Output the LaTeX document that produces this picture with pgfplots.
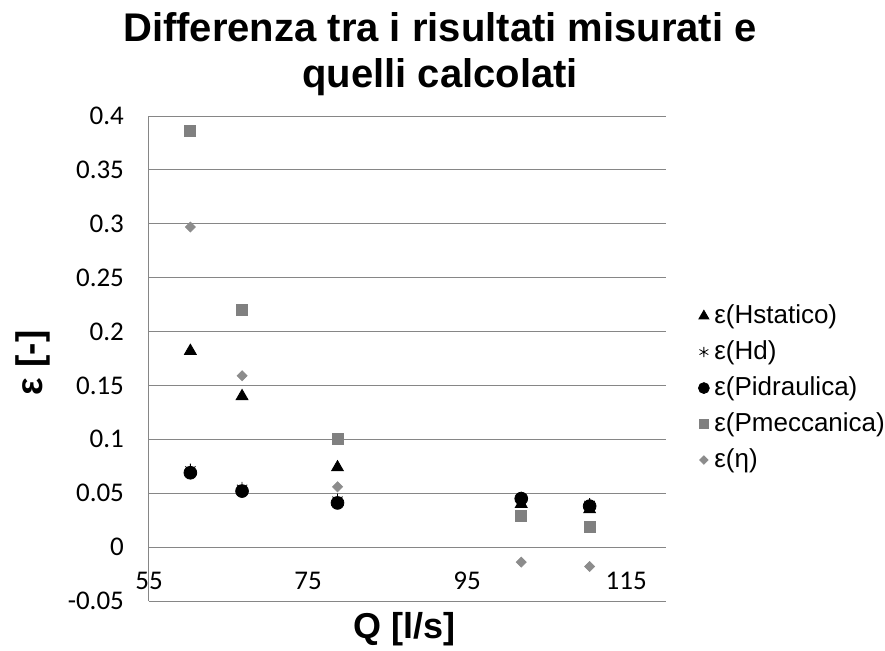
\documentclass[border=0pt]{standalone}
\usepackage{fontspec}
\setmainfont{Liberation Sans}
\newfontfamily\tickfont{Carlito}
\usepackage{pgfplots}
\pgfplotsset{compat=1.18}

\definecolor{gridgray}{HTML}{868686}
\definecolor{sqgray}{HTML}{808080}
\definecolor{digray}{HTML}{8C8C8C}

% Flow rates Q [l/s] and relative deviations for each quantity
\pgfplotstableread{
Q      Hst     Hd      Pid     Pmec    eta
60.2   0.182   0.072   0.069   0.386   0.297
66.7   0.140   0.055   0.052   0.220   0.159
78.7   0.074   0.044   0.041   0.100   0.056
101.8  0.040   0.046   0.045   0.029  -0.014
110.4  0.035   0.040   0.038   0.019  -0.018
}\devdata

\begin{document}
\begin{tikzpicture}
\useasboundingbox (-74.5pt,-24.5pt) rectangle (368pt,300.5pt);
\begin{axis}[
  at={(0,0)}, anchor=south west,
  scale only axis, width=258.5pt, height=242.5pt,
  xmin=55, xmax=120, ymin=-0.05, ymax=0.4,
  xtick={55,75,95,115},
  ytick={-0.05,0,0.05,0.1,0.15,0.2,0.25,0.3,0.35,0.4},
  axis lines*=left,
  axis line style={gridgray, line width=0.5pt},
  ymajorgrids, grid style={gridgray, line width=0.5pt},
  major tick length=0pt,
  /pgf/number format/fixed,
  /pgf/number format/precision=2,
  /pgf/number format/assume math mode=true,
  tick label style={font=\tickfont\fontsize{13.5}{16}\selectfont},
  yticklabel style={anchor=east, xshift=-9pt},
  xticklabel style={anchor=base, yshift=6pt},
  clip=false,
  title={Differenza tra i risultati misurati e\\quelli calcolati},
  title style={font=\bfseries\fontsize{20}{23}\selectfont, align=center,
    at={(rel axis cs:0.563,1.034)}, anchor=base},
  xlabel={Q [l/s]},
  xlabel style={font=\bfseries\fontsize{18}{21}\selectfont,
    at={(rel axis cs:0.494,-0.0763)}, anchor=base},
  ylabel={ε [-]},
  ylabel style={font=\bfseries\fontsize{18.5}{21}\selectfont,
    at={(rel axis cs:-0.224,0.491)}, anchor=center, rotate=0},
  legend style={draw=none, fill=none, at={(rel axis cs:1.062,0.437)}, anchor=west,
    font=\fontsize{13}{15.6}\selectfont, row sep=3.5pt, column sep=1.5pt, inner sep=0pt,
    nodes={inner sep=1pt, text height=9.5pt, text depth=3pt}},
  legend cell align=left,
  legend image code/.code={\draw[#1, every mark/.append style={scale=0.85}] plot coordinates {(0pt,0.5pt)};},
]
\addplot[only marks, mark=triangle*, mark size=3.4pt, black] table[x=Q, y=Hst] {\devdata};
\addlegendentry{ε(Hstatico)}
\addplot[only marks, mark=asterisk, mark size=3pt, black, line width=0.4pt] table[x=Q, y=Hd] {\devdata};
\addlegendentry{ε(Hd)}
\addplot[only marks, mark=*, mark size=3.2pt, black] table[x=Q, y=Pid] {\devdata};
\addlegendentry{ε(Pidraulica)}
\addplot[only marks, mark=square*, mark size=2.75pt, sqgray] table[x=Q, y=Pmec] {\devdata};
\addlegendentry{ε(Pmeccanica)}
\addplot[only marks, mark=square*, mark size=1.75pt, mark options={rotate=45}, digray] table[x=Q, y=eta] {\devdata};
\addlegendentry{ε(η)}
\end{axis}
\end{tikzpicture}
\end{document}
